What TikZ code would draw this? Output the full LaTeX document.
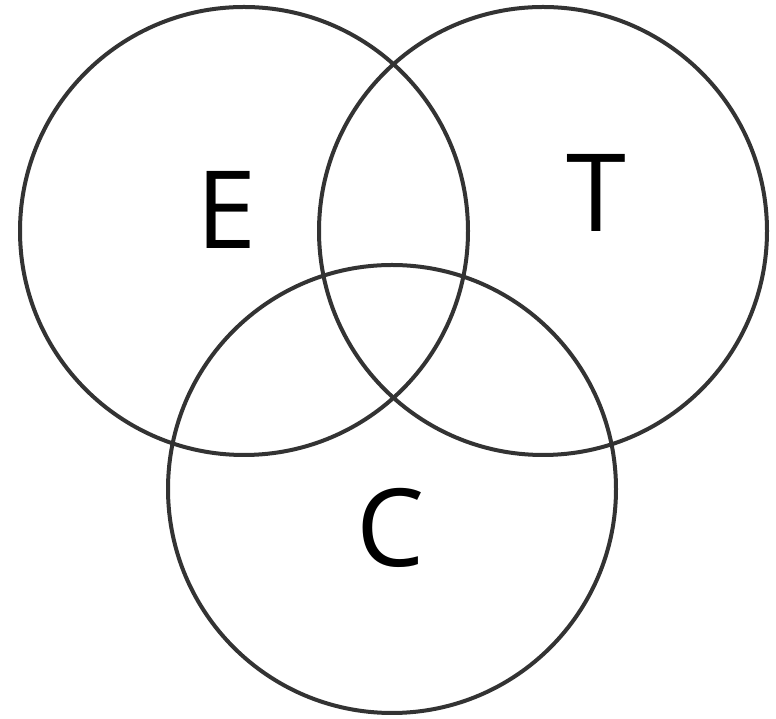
\documentclass[tikz,border=0pt]{standalone}
\usepackage{fontspec}
\setmainfont{Open Sans}
\begin{document}
\begin{tikzpicture}[x=1pt,y=1pt,
  setcircle/.style={draw=black!80, line width=4pt},
  setlabel/.style={font=\fontsize{108}{108}\selectfont, inner sep=0pt, anchor=center}]
\useasboundingbox (0,0) rectangle (776,719);
\draw[setcircle] (244,488) circle (224);
\draw[setcircle] (543,488) circle (224);
\draw[setcircle] (392,230) circle (224);
\node[setlabel] (E) at (226.5,509.5) {E};
\node[setlabel] (T) at (596,526) {T};
\node[setlabel] (C) at (390.5,191.5) {C};
\end{tikzpicture}
\end{document}
